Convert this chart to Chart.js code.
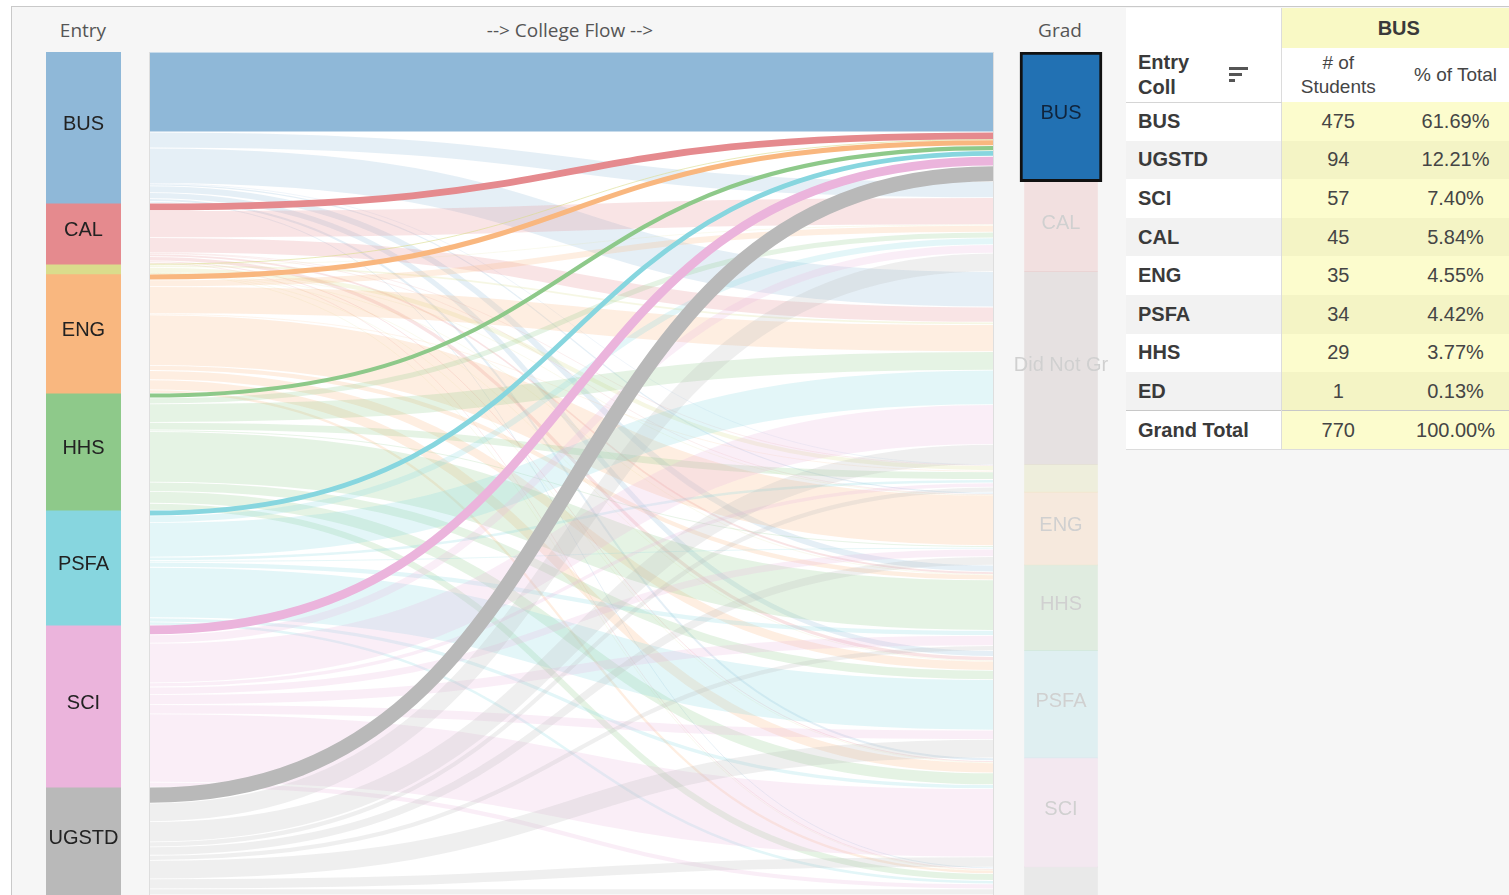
<!DOCTYPE html>
<html>
<head>
<meta charset="utf-8">
<script src="https://cdn.jsdelivr.net/npm/chart.js@4.4.1/dist/chart.umd.min.js"></script>
<style>
    html, body { margin: 0; padding: 0; }
    body { width: 1509px; height: 895px; overflow: hidden; background: #fff; position: relative; font-family: 'Liberation Sans', Arial, sans-serif; }
    #frame { position: absolute; left: 11px; top: 6px; width: 1510px; height: 900px; background: #f6f6f6; border-left: 1px solid #c9c9c9; border-top: 1px solid #c9c9c9; }
    .hdr { position: absolute; top: 18px; transform: translateX(-50%); white-space: nowrap; font: 19px 'Open Sans', sans-serif; line-height: 24px; color: #555; }
    #entryChart { position: absolute; left: 46px; top: 52px; }
    #flowBox { position: absolute; left: 149px; top: 52px; width: 843px; height: 843px; background: #fff; border-left: 1px solid #dedede; border-right: 1px solid #dedede; }
    #flowChart { position: absolute; left: 0; top: 0; }
    #gradChart { position: absolute; left: 1005px; top: 52px; }

    #busTable { position: absolute; left: 1126px; top: 8px; border-collapse: collapse; table-layout: fixed; width: 390px; background: #fff; }
    #busTable th, #busTable td { padding: 0; white-space: nowrap; overflow: hidden; vertical-align: middle; }
    #busTable tr.h1 { height: 40px; }
    #busTable tr.h2 { height: 54px; }
    #busTable tbody tr { height: 38.6px; }
    #busTable .c1 { text-align: left; padding-left: 12px; border-right: 1px solid #dcdcdc; font-weight: bold; font-size: 20px; color: #3a3a3a; }
    #busTable .num { text-align: center; font-size: 20px; color: #454545; font-weight: normal; background: #fcfccd; }
    #busTable tbody tr.alt .c1 { background: #f2f2f2; }
    #busTable tbody tr.alt .num { background: #f4f4c5; }
    #busTable tr.h1 th.top { background: #f9f9c5; text-align: center; font-weight: bold; font-size: 20px; color: #3a3a3a; }
    #busTable tr.h2 th { font-weight: normal; font-size: 19px; line-height: 24px; color: #454545; text-align: center; background: #fff; }
    #busTable tr.h2 th.c1 { position: relative; text-align: left; font-weight: bold; font-size: 20px; color: #3a3a3a; border-bottom: 1px solid #d5d5d5; line-height: 25px; }
    #busTable tr.total td { border-top: 1px solid #c8c8c8; border-bottom: 1px solid #dcdcdc; }
    #busTable tr.total .c1 { background: #fff; }
    .sort { position: absolute; left: 103px; top: 19px; width: 20px; height: 18px; }
    .sort div { height: 3px; background: #555; margin-bottom: 3px; }
</style>
</head>
<body>
<div id="frame"></div>
<div class="hdr" style="left:83px">Entry</div>
<div class="hdr" style="left:570px">--&gt; College Flow --&gt;</div>
<div class="hdr" style="left:1060px">Grad</div>

<canvas id="entryChart" width="75" height="843"></canvas>
<div id="flowBox"><canvas id="flowChart" width="843" height="843"></canvas></div>
<canvas id="gradChart" width="112" height="843"></canvas>

<table id="busTable">
    <colgroup><col style="width:155px"><col style="width:114px"><col style="width:121px"></colgroup>
    <thead>
        <tr class="h1"><th class="c1" style="border-right:1px solid #dcdcdc"></th><th class="top" colspan="2" id="selHeader"></th></tr>
        <tr class="h2">
            <th class="c1">Entry<br>Coll<span class="sort"><div style="width:19px"></div><div style="width:13px"></div><div style="width:6px"></div></span></th>
            <th># of<br>Students</th>
            <th>% of Total</th>
        </tr>
    </thead>
    <tbody id="tbody"></tbody>
</table>

<script>
// ============================================
// Datos: colegio de entrada -> resultado de graduación
// ============================================

const entryColleges = ['BUS', 'CAL', 'ED', 'ENG', 'HHS', 'PSFA', 'SCI', 'UGSTD'];
const gradOutcomes = ['BUS', 'CAL', 'Did Not Grad', 'ED', 'ENG', 'HHS', 'PSFA', 'SCI', 'UGSTD'];

// students of each entry college, split by grad outcome (gradOutcomes order)
const busFlows   = [475,  95, 210,  3,  12,  40,  35,  17, 10];
const calFlows   = [ 45, 160,  90,  3,   5,  15,  25,  10,  9];
const edFlows    = [  1,   4,  15, 30,   1,   3,   2,   2,  1];
const engFlows   = [ 35,  40, 160,  8, 300,  30,  55,  60, 19];
const hhsFlows   = [ 29,  35, 110, 45,  10, 300,  55,  70, 41];
const psfaFlows  = [ 34,  40, 205, 20,  10,  30, 300,  24, 20];
const sciFlows   = [ 57,  50, 235, 25,  45,  60,  55, 405, 30];
const ugstdFlows = [ 94, 110, 120, 30,  50,  30, 110,  60, 36];

const selectedGrad = 'BUS';

// Paleta
const entryColors = ['#8fb8d8', '#e58a8e', '#dadc8c', '#f9b77f', '#8ec98a', '#87d6df', '#ebb4dc', '#b9b9b9'];
const gradColors  = ['#2271b3', '#e58a8e', '#a89090', '#d2d47a', '#f9b77f', '#8ec98a', '#87d6df', '#ebb4dc', '#b9b9b9'];

// ============================================
// Totales derivados
// ============================================

const flowRows = [busFlows, calFlows, edFlows, engFlows, hhsFlows, psfaFlows, sciFlows, ugstdFlows];
const entryTotals = flowRows.map(r => r.reduce((a, b) => a + b, 0));
const gradTotals = gradOutcomes.map((_, j) => flowRows.reduce((a, r) => a + r[j], 0));
const TOTAL = entryTotals.reduce((a, b) => a + b, 0);
const selIdx = gradOutcomes.indexOf(selectedGrad);

function fade(hex, a) {
    const n = parseInt(hex.slice(1), 16);
    return `rgba(${(n >> 16) & 255}, ${(n >> 8) & 255}, ${n & 255}, ${a})`;
}

// ============================================
// Plugins
// ============================================

// etiquetas centradas sobre cada segmento apilado
const barLabelPlugin = {
    id: 'barLabels',
    afterDatasetsDraw(chart) {
        const ctx = chart.ctx;
        ctx.save();
        ctx.font = '20px "Liberation Sans", Arial, sans-serif';
        ctx.textAlign = 'center';
        ctx.textBaseline = 'middle';
        chart.data.datasets.forEach((ds, i) => {
            const el = chart.getDatasetMeta(i).data[0];
            if (!el) return;
            const { x, y, base } = el.getProps(['x', 'y', 'base'], true);
            if (Math.abs(base - y) < 34) return;
            let text = ds.label;
            while (ctx.measureText(text).width > 104 && text.length > 1) text = text.slice(0, -1);
            ctx.fillStyle = ds.labelColor;
            ctx.fillText(text.trim(), x, (y + base) / 2 - 3);
        });
        ctx.restore();
    }
};

// cintas del sankey: cada dataset tiene 2 puntos (entrada, graduación)
const ribbonPlugin = {
    id: 'ribbons',
    afterDatasetsDraw(chart) {
        const ctx = chart.ctx;
        const yScale = chart.scales.y;
        const area = chart.chartArea;
        ctx.save();
        ctx.beginPath();
        ctx.rect(area.left, area.top, area.right - area.left, area.bottom - area.top);
        ctx.clip();
        ctx.lineCap = 'butt';
        chart.data.datasets.forEach((ds, i) => {
            const pts = chart.getDatasetMeta(i).data;
            if (pts.length < 2) return;
            const p0 = pts[0], p1 = pts[1];
            const w = Math.abs(yScale.getPixelForValue(ds.flowValue) - yScale.getPixelForValue(0));
            const k = 0.55 * (p1.x - p0.x);
            ctx.beginPath();
            ctx.moveTo(p0.x, p0.y);
            ctx.bezierCurveTo(p0.x + k, p0.y, p1.x - k, p1.y, p1.x, p1.y);
            ctx.lineWidth = Math.max(0.6, w - 0.8);
            ctx.strokeStyle = ds.ribbonColor;
            ctx.stroke();
        });
        ctx.restore();
    }
};

const stackedScales = {
    x: { stacked: true, display: false },
    y: { stacked: true, display: false, min: 0, max: TOTAL, reverse: true }
};

// ============================================
// Entry (barra apilada)
// ============================================

new Chart(document.getElementById('entryChart'), {
    type: 'bar',
    data: {
        labels: ['Entry'],
        datasets: entryColleges.map((name, i) => ({
            label: name,
            data: [entryTotals[i]],
            backgroundColor: entryColors[i],
            borderWidth: 0,
            barPercentage: 1,
            categoryPercentage: 1,
            labelColor: '#222'
        }))
    },
    options: {
        responsive: false,
        animation: false,
        layout: { padding: 0 },
        scales: stackedScales,
        plugins: { legend: { display: false } }
    },
    plugins: [barLabelPlugin]
});

// ============================================
// College Flow (cintas)
// ============================================

const flowDatasets = [];
const entryStart = entryTotals.map((_, i) => entryTotals.slice(0, i).reduce((a, b) => a + b, 0));
const gradStart = gradTotals.map((_, j) => gradTotals.slice(0, j).reduce((a, b) => a + b, 0));
const faded = [], bright = [];

entryColleges.forEach((from, i) => {
    gradOutcomes.forEach((to, j) => {
        const v = flowRows[i][j];
        if (!v) return;
        const left = entryStart[i] + flowRows[i].slice(0, j).reduce((a, b) => a + b, 0) + v / 2;
        const right = gradStart[j] + flowRows.slice(0, i).reduce((a, r) => a + r[j], 0) + v / 2;
        const isSel = j === selIdx;
        const ds = {
            label: from + ' -> ' + to,
            data: [{ x: 0, y: left }, { x: 1, y: right }],
            showLine: false,
            pointRadius: 0,
            pointHoverRadius: 0,
            flowValue: v,
            ribbonColor: isSel ? entryColors[i] : fade(entryColors[i], 0.23)
        };
        (isSel ? bright : faded).push(ds);
    });
});
flowDatasets.push(...faded, ...bright);

new Chart(document.getElementById('flowChart'), {
    type: 'line',
    data: { datasets: flowDatasets },
    options: {
        responsive: false,
        animation: false,
        layout: { padding: 0 },
        scales: {
            x: { type: 'linear', min: 0, max: 1, display: false },
            y: { type: 'linear', min: 0, max: TOTAL, reverse: true, display: false }
        },
        plugins: { legend: { display: false }, tooltip: { enabled: false } }
    },
    plugins: [ribbonPlugin]
});

// ============================================
// Grad (barra apilada, BUS resaltado)
// ============================================

new Chart(document.getElementById('gradChart'), {
    type: 'bar',
    data: {
        labels: ['Grad'],
        datasets: gradOutcomes.map((name, j) => {
            const isSel = j === selIdx;
            return {
                label: name,
                data: [gradTotals[j]],
                backgroundColor: isSel ? gradColors[j] : fade(gradColors[j], 0.2),
                borderColor: '#111',
                borderWidth: isSel ? 3 : 0,
                borderSkipped: false,
                barThickness: isSel ? 82 : 73,
                labelColor: isSel ? '#10243c' : '#d0d0d0'
            };
        })
    },
    options: {
        responsive: false,
        animation: false,
        layout: { padding: 0 },
        scales: stackedScales,
        plugins: { legend: { display: false } }
    },
    plugins: [barLabelPlugin]
});

// ============================================
// Tabla: alumnos graduados en BUS por colegio de entrada
// ============================================

document.getElementById('selHeader').textContent = selectedGrad;
const selTotal = gradTotals[selIdx];
const rows = entryColleges
    .map((name, i) => ({ name, n: flowRows[i][selIdx] }))
    .sort((a, b) => b.n - a.n);

const tbody = document.getElementById('tbody');
rows.forEach((r, k) => {
    const tr = document.createElement('tr');
    if (k % 2 === 1) tr.className = 'alt';
    tr.innerHTML = `<td class="c1">${r.name}</td><td class="num">${r.n}</td><td class="num">${(r.n / selTotal * 100).toFixed(2)}%</td>`;
    tbody.appendChild(tr);
});
const totalRow = document.createElement('tr');
totalRow.className = 'total';
totalRow.innerHTML = `<td class="c1">Grand Total</td><td class="num">${selTotal}</td><td class="num">100.00%</td>`;
tbody.appendChild(totalRow);
</script>
</body>
</html>
